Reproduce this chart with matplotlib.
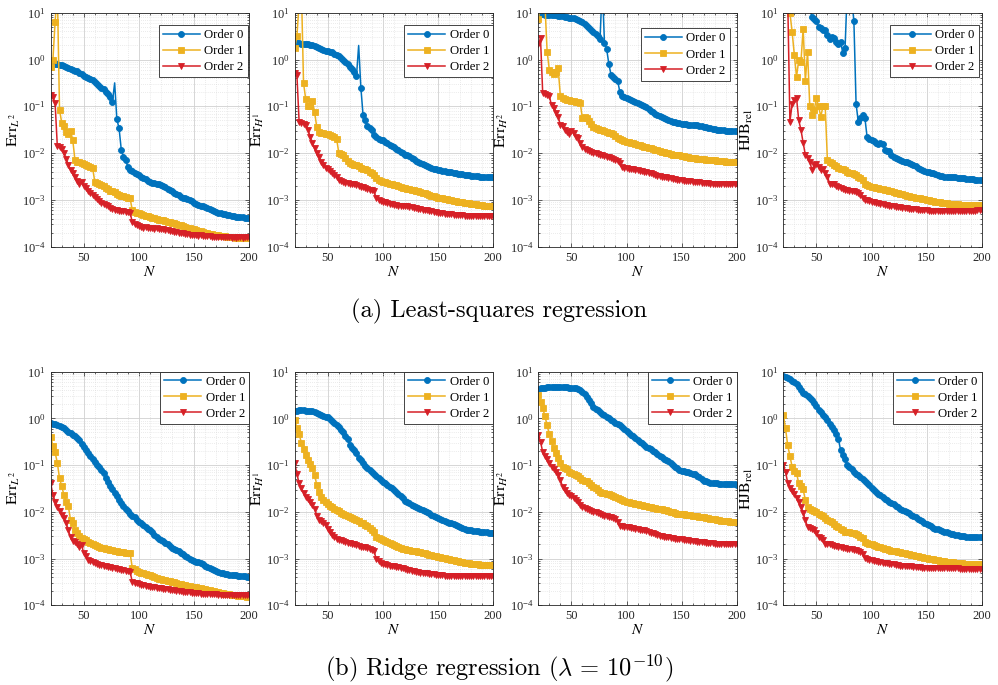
import numpy as np
import matplotlib
matplotlib.use('Agg')
import matplotlib.pyplot as plt
from matplotlib.ticker import FixedLocator, LogLocator, MultipleLocator, NullFormatter, LogFormatterSciNotation

# ---------------- data (log10 of the plotted values), N = 20, 22, ..., 200 ----------------
N = list(range(20, 201, 2))

# (a) Least-squares regression
ls_l2_o0 = [-0.05,-0.08,-0.09,-0.10,-0.11,-0.12,-0.14,-0.16,-0.18,-0.20,
            -0.22,-0.24,-0.25,-0.28,-0.32,-0.35,-0.37,-0.39,-0.42,-0.44,
            -0.48,-0.53,-0.57,-0.60,-0.64,-0.69,-0.74,-0.80,-0.90,-0.50,
            -1.28,-1.47,-1.93,-2.08,-2.15,-2.30,-2.36,-2.39,-2.42,-2.44,
            -2.47,-2.50,-2.53,-2.56,-2.59,-2.61,-2.63,-2.64,-2.66,-2.67,
            -2.68,-2.70,-2.73,-2.76,-2.79,-2.82,-2.85,-2.88,-2.90,-2.93,
            -2.95,-2.97,-2.99,-3.01,-3.03,-3.06,-3.08,-3.10,-3.12,-3.14,
            -3.16,-3.18,-3.20,-3.22,-3.24,-3.26,-3.28,-3.29,-3.30,-3.31,
            -3.32,-3.33,-3.34,-3.35,-3.36,-3.36,-3.37,-3.37,-3.38,-3.38,
            -3.38]
ls_l2_o1 = [-0.15,0.00,0.80,1.50,-1.08,-1.35,-1.42,-1.55,-1.60,-1.52,
            -1.72,-2.15,-2.18,-2.20,-2.21,-2.23,-2.25,-2.28,-2.30,-2.32,
            -2.61,-2.63,-2.65,-2.68,-2.71,-2.75,-2.77,-2.80,-2.82,-2.84,
            -2.87,-2.90,-2.91,-2.92,-2.93,-2.95,-2.97,-3.22,-3.25,-3.27,
            -3.29,-3.31,-3.32,-3.34,-3.35,-3.36,-3.38,-3.39,-3.41,-3.42,
            -3.43,-3.44,-3.46,-3.47,-3.48,-3.49,-3.50,-3.51,-3.53,-3.54,
            -3.56,-3.57,-3.59,-3.60,-3.62,-3.63,-3.64,-3.66,-3.67,-3.69,
            -3.70,-3.71,-3.72,-3.73,-3.74,-3.75,-3.76,-3.77,-3.77,-3.78,
            -3.79,-3.79,-3.80,-3.80,-3.81,-3.81,-3.81,-3.82,-3.82,-3.82,
            -3.82]
ls_l2_o2 = [-0.76,-0.80,-0.94,-1.85,-1.88,-1.92,-2.00,-2.12,-2.25,-2.36,
            -2.43,-2.52,-2.60,-2.66,-2.62,-2.70,-2.74,-2.80,-2.85,-2.90,
            -2.93,-2.98,-3.03,-3.06,-3.09,-3.11,-3.14,-3.17,-3.19,-3.21,
            -3.22,-3.23,-3.23,-3.24,-3.25,-3.26,-3.27,-3.48,-3.52,-3.54,
            -3.56,-3.57,-3.59,-3.58,-3.60,-3.61,-3.60,-3.62,-3.61,-3.62,
            -3.63,-3.63,-3.65,-3.64,-3.66,-3.66,-3.68,-3.68,-3.70,-3.70,
            -3.71,-3.72,-3.72,-3.74,-3.74,-3.75,-3.75,-3.77,-3.76,-3.77,
            -3.77,-3.78,-3.78,-3.79,-3.79,-3.79,-3.80,-3.80,-3.80,-3.80,
            -3.80,-3.80,-3.81,-3.80,-3.81,-3.80,-3.80,-3.81,-3.80,-3.80,
            -3.80]

ls_h1_o0 = [0.36,0.35,0.35,0.34,0.34,0.33,0.33,0.32,0.31,0.29,
            0.27,0.25,0.22,0.20,0.19,0.18,0.17,0.15,0.12,0.10,
            0.07,0.03,-0.01,-0.05,-0.10,-0.15,-0.20,-0.27,-0.36,0.30,
            -0.60,-1.19,-1.30,-1.42,-1.46,-1.50,-1.61,-1.66,-1.69,-1.71,
            -1.73,-1.76,-1.79,-1.82,-1.85,-1.88,-1.91,-1.94,-1.97,-2.00,
            -2.03,-2.05,-2.07,-2.10,-2.13,-2.16,-2.19,-2.21,-2.23,-2.25,
            -2.27,-2.29,-2.31,-2.33,-2.34,-2.36,-2.37,-2.38,-2.39,-2.40,
            -2.40,-2.41,-2.42,-2.43,-2.44,-2.44,-2.45,-2.46,-2.47,-2.47,
            -2.48,-2.48,-2.49,-2.49,-2.50,-2.50,-2.51,-2.51,-2.51,-2.52,
            -2.52]
ls_h1_o1 = [0.25,0.50,1.20,1.60,-0.50,-0.85,-1.00,-1.00,-0.88,-1.12,
            -1.44,-1.54,-1.56,-1.58,-1.59,-1.60,-1.61,-1.63,-1.65,-1.69,
            -2.00,-2.02,-2.04,-2.10,-2.16,-2.22,-2.23,-2.25,-2.26,-2.28,
            -2.31,-2.33,-2.35,-2.37,-2.40,-2.43,-2.47,-2.54,-2.57,-2.59,
            -2.61,-2.62,-2.64,-2.65,-2.66,-2.68,-2.69,-2.71,-2.72,-2.74,
            -2.75,-2.76,-2.77,-2.78,-2.79,-2.80,-2.82,-2.83,-2.85,-2.86,
            -2.88,-2.89,-2.91,-2.92,-2.93,-2.95,-2.96,-2.97,-2.98,-2.99,
            -3.00,-3.01,-3.02,-3.03,-3.04,-3.05,-3.05,-3.06,-3.07,-3.07,
            -3.08,-3.09,-3.09,-3.10,-3.11,-3.11,-3.12,-3.12,-3.13,-3.13,
            -3.13]
ls_h1_o2 = [-0.28,-0.33,-1.33,-1.35,-1.37,-1.40,-1.50,-1.65,-1.79,-1.90,
            -2.00,-2.08,-2.18,-2.25,-2.32,-2.34,-2.38,-2.42,-2.47,-2.52,
            -2.57,-2.59,-2.61,-2.63,-2.64,-2.65,-2.66,-2.67,-2.69,-2.71,
            -2.72,-2.73,-2.75,-2.76,-2.78,-2.79,-2.82,-2.97,-3.00,-3.02,
            -3.04,-3.05,-3.07,-3.08,-3.09,-3.10,-3.11,-3.12,-3.12,-3.13,
            -3.13,-3.14,-3.15,-3.16,-3.17,-3.18,-3.19,-3.20,-3.21,-3.22,
            -3.22,-3.23,-3.24,-3.25,-3.26,-3.27,-3.28,-3.29,-3.30,-3.30,
            -3.31,-3.31,-3.32,-3.32,-3.32,-3.33,-3.33,-3.34,-3.34,-3.34,
            -3.35,-3.35,-3.35,-3.35,-3.35,-3.35,-3.35,-3.35,-3.35,-3.35,
            -3.35]

ls_h2_o0 = [0.97,0.97,0.97,0.96,0.96,0.96,0.96,0.96,0.95,0.94,
            0.93,0.92,0.91,0.90,0.89,0.88,0.88,0.87,0.85,0.83,
            0.80,0.76,0.72,0.67,0.63,0.59,0.55,0.51,0.44,1.60,
            0.36,0.22,-0.10,-0.33,-0.38,-0.42,-0.46,-0.70,-0.77,-0.80,
            -0.83,-0.85,-0.87,-0.89,-0.91,-0.93,-0.95,-0.97,-0.99,-1.01,
            -1.05,-1.09,-1.13,-1.16,-1.19,-1.21,-1.23,-1.25,-1.27,-1.29,
            -1.31,-1.33,-1.34,-1.35,-1.36,-1.37,-1.38,-1.38,-1.39,-1.39,
            -1.40,-1.40,-1.41,-1.42,-1.43,-1.44,-1.45,-1.46,-1.47,-1.48,
            -1.49,-1.50,-1.50,-1.51,-1.51,-1.52,-1.52,-1.52,-1.53,-1.53,
            -1.53]
ls_h2_o1 = [0.86,1.20,1.30,1.20,0.17,-0.22,-0.27,-0.30,-0.26,-0.18,
            -0.78,-0.82,-0.84,-0.86,-0.87,-0.88,-0.89,-0.90,-0.91,-0.92,
            -1.26,-1.22,-1.26,-1.31,-1.38,-1.44,-1.46,-1.48,-1.50,-1.51,
            -1.52,-1.54,-1.56,-1.58,-1.60,-1.63,-1.67,-1.70,-1.72,-1.74,
            -1.76,-1.77,-1.78,-1.79,-1.80,-1.82,-1.83,-1.85,-1.86,-1.88,
            -1.89,-1.90,-1.92,-1.93,-1.94,-1.96,-1.97,-1.98,-1.99,-2.00,
            -2.02,-2.03,-2.04,-2.05,-2.05,-2.06,-2.07,-2.08,-2.09,-2.10,
            -2.11,-2.11,-2.12,-2.12,-2.13,-2.13,-2.14,-2.14,-2.15,-2.15,
            -2.15,-2.16,-2.16,-2.17,-2.17,-2.18,-2.18,-2.19,-2.19,-2.20,
            -2.20]
ls_h2_o2 = [0.34,0.45,-0.72,-0.74,-0.76,-0.78,-0.98,-1.04,-1.14,-1.22,
            -1.40,-1.43,-1.50,-1.55,-1.60,-1.52,-1.58,-1.65,-1.68,-1.78,
            -1.88,-1.91,-1.93,-1.95,-1.97,-1.99,-2.00,-2.02,-2.04,-2.05,
            -2.06,-2.08,-2.09,-2.11,-2.12,-2.14,-2.17,-2.22,-2.29,-2.31,
            -2.32,-2.33,-2.34,-2.35,-2.36,-2.37,-2.38,-2.39,-2.40,-2.41,
            -2.42,-2.43,-2.44,-2.46,-2.48,-2.49,-2.50,-2.51,-2.52,-2.53,
            -2.54,-2.55,-2.56,-2.57,-2.58,-2.58,-2.59,-2.59,-2.60,-2.60,
            -2.61,-2.61,-2.62,-2.62,-2.63,-2.63,-2.64,-2.64,-2.65,-2.65,
            -2.65,-2.65,-2.66,-2.66,-2.66,-2.66,-2.66,-2.66,-2.66,-2.66,
            -2.66]

ls_hjb_o0 = [1.90,1.85,1.80,1.75,1.70,1.60,1.55,1.50,1.40,1.35,
             1.30,1.20,1.10,0.90,0.86,0.83,0.70,0.67,0.64,0.63,
             0.52,0.43,0.49,0.47,0.38,0.34,0.38,0.13,0.24,1.50,
             1.60,1.30,0.83,-0.95,-1.33,-1.24,-1.19,-1.25,-1.66,-1.69,
             -1.71,-1.74,-1.78,-1.81,-1.79,-1.80,-1.93,-1.96,-1.95,-2.05,
             -2.08,-2.10,-2.12,-2.14,-2.16,-2.18,-2.20,-2.21,-2.23,-2.25,
             -2.28,-2.31,-2.35,-2.37,-2.39,-2.40,-2.41,-2.42,-2.43,-2.44,
             -2.46,-2.48,-2.49,-2.50,-2.50,-2.51,-2.51,-2.52,-2.52,-2.53,
             -2.53,-2.54,-2.54,-2.55,-2.55,-2.56,-2.56,-2.57,-2.57,-2.58,
             -2.58]
ls_hjb_o1 = [1.50,1.40,1.20,1.00,0.59,0.10,-0.37,-0.01,-0.05,0.66,
             -0.46,0.17,-1.00,-1.19,-1.08,-0.83,-1.00,-1.22,-1.00,-1.00,
             -2.15,-2.18,-2.22,-2.25,-2.28,-2.31,-2.33,-2.35,-2.37,-2.40,
             -2.42,-2.43,-2.45,-2.47,-2.50,-2.53,-2.57,-2.67,-2.69,-2.71,
             -2.72,-2.73,-2.74,-2.75,-2.76,-2.77,-2.78,-2.79,-2.80,-2.81,
             -2.84,-2.85,-2.86,-2.87,-2.88,-2.89,-2.91,-2.92,-2.93,-2.94,
             -2.95,-2.96,-2.97,-2.98,-2.99,-3.00,-3.01,-3.02,-3.03,-3.04,
             -3.05,-3.05,-3.06,-3.07,-3.07,-3.08,-3.08,-3.09,-3.09,-3.09,
             -3.10,-3.10,-3.10,-3.10,-3.10,-3.10,-3.10,-3.10,-3.10,-3.10,
             -3.10]
ls_hjb_o2 = [1.60,1.50,1.30,-1.33,-0.95,-0.87,-0.82,-1.30,-1.50,-1.78,
             -2.04,-2.10,-2.18,-2.36,-2.26,-2.24,-2.29,-2.36,-2.34,-2.42,
             -2.50,-2.65,-2.65,-2.66,-2.70,-2.72,-2.74,-2.76,-2.78,-2.79,
             -2.81,-2.82,-2.82,-2.83,-2.86,-2.90,-2.95,-3.00,-3.01,-3.03,
             -3.04,-3.05,-3.06,-3.07,-3.08,-3.09,-3.10,-3.11,-3.12,-3.13,
             -3.14,-3.15,-3.15,-3.16,-3.17,-3.18,-3.18,-3.19,-3.19,-3.20,
             -3.20,-3.21,-3.21,-3.22,-3.22,-3.22,-3.23,-3.23,-3.23,-3.23,
             -3.23,-3.23,-3.24,-3.24,-3.24,-3.24,-3.24,-3.24,-3.24,-3.24,
             -3.24,-3.24,-3.24,-3.24,-3.23,-3.23,-3.23,-3.23,-3.22,-3.22,
             -3.22]

# (b) Ridge regression
rr_l2_o0 = [-0.09,-0.11,-0.13,-0.15,-0.17,-0.19,-0.21,-0.25,-0.29,-0.32,
            -0.35,-0.38,-0.42,-0.47,-0.54,-0.61,-0.67,-0.74,-0.80,-0.86,
            -0.93,-0.99,-1.05,-1.10,-1.16,-1.27,-1.37,-1.45,-1.52,-1.60,
            -1.67,-1.74,-1.81,-1.87,-1.93,-1.99,-2.04,-2.08,-2.12,-2.17,
            -2.21,-2.25,-2.29,-2.32,-2.36,-2.40,-2.44,-2.49,-2.54,-2.58,
            -2.61,-2.63,-2.66,-2.69,-2.73,-2.77,-2.80,-2.82,-2.85,-2.88,
            -2.91,-2.94,-2.97,-3.00,-3.03,-3.05,-3.07,-3.08,-3.09,-3.12,
            -3.15,-3.18,-3.21,-3.23,-3.25,-3.27,-3.29,-3.31,-3.32,-3.33,
            -3.34,-3.35,-3.35,-3.36,-3.36,-3.37,-3.37,-3.38,-3.38,-3.39,
            -3.39]
rr_l2_o1 = [-0.39,-0.59,-0.73,-0.95,-1.28,-1.45,-1.64,-1.78,-1.88,-2.18,
            -2.25,-2.40,-2.46,-2.52,-2.56,-2.59,-2.61,-2.64,-2.67,-2.70,
            -2.72,-2.74,-2.75,-2.77,-2.78,-2.79,-2.80,-2.81,-2.82,-2.83,
            -2.85,-2.86,-2.87,-2.87,-2.88,-2.88,-2.89,-3.20,-3.23,-3.26,
            -3.29,-3.30,-3.32,-3.33,-3.35,-3.36,-3.38,-3.40,-3.42,-3.43,
            -3.44,-3.45,-3.47,-3.48,-3.49,-3.50,-3.51,-3.53,-3.54,-3.55,
            -3.56,-3.57,-3.58,-3.59,-3.60,-3.61,-3.62,-3.63,-3.64,-3.65,
            -3.66,-3.67,-3.68,-3.69,-3.70,-3.71,-3.72,-3.73,-3.74,-3.75,
            -3.76,-3.77,-3.78,-3.79,-3.79,-3.80,-3.80,-3.81,-3.81,-3.82,
            -3.82]
rr_l2_o2 = [-1.39,-1.64,-1.78,-1.90,-1.98,-2.07,-2.14,-2.24,-2.40,-2.54,
            -2.62,-2.64,-2.68,-2.76,-2.72,-2.88,-2.95,-3.03,-3.06,-3.08,
            -3.10,-3.12,-3.13,-3.14,-3.16,-3.17,-3.18,-3.19,-3.20,-3.21,
            -3.22,-3.23,-3.24,-3.25,-3.26,-3.27,-3.29,-3.50,-3.52,-3.53,
            -3.54,-3.56,-3.57,-3.58,-3.59,-3.60,-3.61,-3.62,-3.63,-3.63,
            -3.64,-3.65,-3.66,-3.66,-3.67,-3.68,-3.68,-3.69,-3.70,-3.70,
            -3.71,-3.71,-3.72,-3.72,-3.73,-3.73,-3.74,-3.74,-3.75,-3.75,
            -3.75,-3.76,-3.76,-3.77,-3.77,-3.77,-3.78,-3.78,-3.78,-3.78,
            -3.79,-3.79,-3.79,-3.79,-3.79,-3.79,-3.79,-3.79,-3.79,-3.79,
            -3.79]

rr_h1_o0 = [0.16,0.16,0.17,0.17,0.17,0.16,0.16,0.15,0.15,0.14,
            0.12,0.10,0.08,0.06,0.04,0.02,-0.02,-0.06,-0.10,-0.14,
            -0.19,-0.24,-0.30,-0.37,-0.44,-0.58,-0.63,-0.68,-0.75,-0.84,
            -0.90,-0.96,-1.02,-1.07,-1.11,-1.15,-1.18,-1.23,-1.27,-1.32,
            -1.36,-1.39,-1.43,-1.46,-1.50,-1.54,-1.57,-1.62,-1.66,-1.71,
            -1.77,-1.80,-1.82,-1.85,-1.88,-1.90,-1.92,-1.95,-1.97,-1.99,
            -2.01,-2.03,-2.06,-2.09,-2.11,-2.14,-2.16,-2.17,-2.19,-2.21,
            -2.23,-2.25,-2.27,-2.29,-2.31,-2.33,-2.35,-2.37,-2.38,-2.39,
            -2.40,-2.41,-2.42,-2.42,-2.43,-2.43,-2.44,-2.44,-2.45,-2.45,
            -2.45]
rr_h1_o1 = [-0.04,-0.20,-0.33,-0.52,-0.66,-0.79,-0.89,-0.97,-1.07,-1.21,
            -1.42,-1.57,-1.68,-1.75,-1.80,-1.84,-1.87,-1.90,-1.94,-1.97,
            -1.99,-2.02,-2.04,-2.07,-2.10,-2.12,-2.14,-2.16,-2.18,-2.20,
            -2.23,-2.25,-2.28,-2.31,-2.34,-2.38,-2.43,-2.54,-2.57,-2.59,
            -2.61,-2.63,-2.65,-2.67,-2.69,-2.71,-2.73,-2.75,-2.77,-2.79,
            -2.80,-2.81,-2.82,-2.83,-2.84,-2.85,-2.86,-2.87,-2.88,-2.89,
            -2.91,-2.92,-2.93,-2.94,-2.95,-2.96,-2.97,-2.98,-2.99,-3.00,
            -3.02,-3.03,-3.04,-3.05,-3.06,-3.07,-3.08,-3.09,-3.10,-3.10,
            -3.11,-3.11,-3.12,-3.12,-3.13,-3.13,-3.13,-3.14,-3.14,-3.14,
            -3.14]
rr_h1_o2 = [-0.95,-1.20,-1.38,-1.50,-1.59,-1.68,-1.73,-1.79,-1.86,-1.93,
            -2.08,-2.17,-2.20,-2.23,-2.29,-2.37,-2.44,-2.49,-2.55,-2.58,
            -2.60,-2.61,-2.62,-2.64,-2.66,-2.67,-2.69,-2.70,-2.72,-2.74,
            -2.75,-2.75,-2.76,-2.78,-2.79,-2.82,-2.84,-3.02,-3.06,-3.09,
            -3.11,-3.12,-3.14,-3.15,-3.16,-3.17,-3.18,-3.19,-3.20,-3.21,
            -3.23,-3.24,-3.25,-3.26,-3.27,-3.28,-3.29,-3.30,-3.31,-3.32,
            -3.32,-3.33,-3.34,-3.34,-3.35,-3.35,-3.36,-3.36,-3.37,-3.37,
            -3.37,-3.37,-3.37,-3.38,-3.38,-3.38,-3.38,-3.38,-3.38,-3.38,
            -3.37,-3.37,-3.37,-3.37,-3.37,-3.37,-3.37,-3.37,-3.37,-3.37,
            -3.37]

rr_h2_o0 = [0.64,0.65,0.66,0.66,0.67,0.67,0.67,0.67,0.67,0.67,
            0.67,0.67,0.67,0.67,0.66,0.66,0.66,0.65,0.64,0.61,
            0.57,0.52,0.46,0.39,0.33,0.25,0.20,0.17,0.13,0.10,
            0.07,0.03,0.00,-0.03,-0.06,-0.09,-0.12,-0.15,-0.19,-0.23,
            -0.28,-0.31,-0.35,-0.38,-0.42,-0.46,-0.50,-0.53,-0.57,-0.61,
            -0.63,-0.66,-0.69,-0.73,-0.76,-0.80,-0.83,-0.86,-0.89,-0.92,
            -0.96,-0.99,-1.03,-1.07,-1.10,-1.12,-1.13,-1.14,-1.15,-1.16,
            -1.18,-1.20,-1.23,-1.26,-1.30,-1.33,-1.35,-1.37,-1.38,-1.38,
            -1.39,-1.39,-1.40,-1.40,-1.40,-1.41,-1.41,-1.41,-1.41,-1.41,
            -1.42]
rr_h2_o1 = [0.50,0.36,0.22,0.05,-0.15,-0.34,-0.49,-0.63,-0.75,-0.85,
            -0.95,-1.04,-1.06,-1.09,-1.14,-1.17,-1.19,-1.21,-1.23,-1.27,
            -1.32,-1.33,-1.35,-1.39,-1.43,-1.47,-1.50,-1.53,-1.57,-1.59,
            -1.60,-1.61,-1.62,-1.63,-1.66,-1.69,-1.71,-1.73,-1.75,-1.77,
            -1.79,-1.80,-1.81,-1.82,-1.83,-1.84,-1.85,-1.86,-1.87,-1.88,
            -1.89,-1.90,-1.91,-1.92,-1.93,-1.94,-1.95,-1.96,-1.97,-1.99,
            -2.00,-2.01,-2.03,-2.04,-2.04,-2.05,-2.05,-2.06,-2.07,-2.07,
            -2.08,-2.09,-2.10,-2.11,-2.12,-2.12,-2.13,-2.14,-2.15,-2.15,
            -2.16,-2.17,-2.18,-2.19,-2.19,-2.20,-2.20,-2.21,-2.21,-2.22,
            -2.22]
rr_h2_o2 = [-0.36,-0.50,-0.72,-0.80,-0.88,-0.96,-1.03,-1.08,-1.14,-1.21,
            -1.32,-1.46,-1.54,-1.60,-1.64,-1.67,-1.70,-1.75,-1.80,-1.85,
            -1.89,-1.92,-1.94,-1.96,-1.98,-2.00,-2.01,-2.03,-2.05,-2.06,
            -2.08,-2.09,-2.11,-2.12,-2.14,-2.16,-2.21,-2.30,-2.31,-2.32,
            -2.32,-2.33,-2.34,-2.35,-2.36,-2.37,-2.38,-2.39,-2.40,-2.42,
            -2.43,-2.45,-2.46,-2.48,-2.49,-2.51,-2.52,-2.53,-2.54,-2.55,
            -2.56,-2.57,-2.58,-2.58,-2.59,-2.59,-2.60,-2.61,-2.61,-2.62,
            -2.63,-2.63,-2.64,-2.64,-2.65,-2.65,-2.66,-2.66,-2.67,-2.67,
            -2.68,-2.68,-2.68,-2.68,-2.68,-2.68,-2.68,-2.68,-2.68,-2.68,
            -2.68]

rr_hjb_o0 = [0.91,0.89,0.87,0.85,0.81,0.77,0.73,0.68,0.61,0.55,
             0.52,0.47,0.43,0.39,0.32,0.26,0.19,0.13,0.08,0.02,
             -0.04,-0.11,-0.18,-0.25,-0.33,-0.45,-0.68,-0.78,-0.88,-1.00,
             -1.05,-1.09,-1.14,-1.18,-1.21,-1.25,-1.30,-1.34,-1.38,-1.43,
             -1.49,-1.53,-1.57,-1.61,-1.65,-1.69,-1.72,-1.75,-1.78,-1.81,
             -1.84,-1.87,-1.90,-1.93,-1.96,-1.98,-2.00,-2.03,-2.06,-2.09,
             -2.12,-2.15,-2.18,-2.20,-2.23,-2.26,-2.29,-2.31,-2.34,-2.36,
             -2.37,-2.39,-2.41,-2.43,-2.44,-2.46,-2.47,-2.48,-2.50,-2.50,
             -2.51,-2.52,-2.52,-2.53,-2.53,-2.54,-2.54,-2.54,-2.55,-2.55,
             -2.55]
rr_hjb_o1 = [0.07,-0.21,-0.58,-0.80,-1.04,-1.12,-1.17,-1.39,-1.44,-1.52,
             -1.75,-1.90,-1.94,-1.96,-1.98,-2.01,-2.04,-2.07,-2.10,-2.14,
             -2.17,-2.19,-2.21,-2.26,-2.30,-2.32,-2.36,-2.39,-2.43,-2.44,
             -2.44,-2.45,-2.46,-2.47,-2.50,-2.54,-2.56,-2.64,-2.66,-2.68,
             -2.69,-2.71,-2.73,-2.75,-2.76,-2.78,-2.79,-2.80,-2.81,-2.83,
             -2.84,-2.85,-2.86,-2.87,-2.88,-2.89,-2.90,-2.91,-2.92,-2.93,
             -2.94,-2.95,-2.96,-2.97,-2.98,-2.99,-3.00,-3.01,-3.02,-3.03,
             -3.04,-3.05,-3.05,-3.06,-3.07,-3.07,-3.08,-3.08,-3.09,-3.09,
             -3.10,-3.10,-3.11,-3.11,-3.11,-3.12,-3.12,-3.12,-3.12,-3.12,
             -3.12]
rr_hjb_o2 = [-1.00,-1.14,-1.38,-1.48,-1.55,-1.61,-1.70,-1.80,-1.89,-2.02,
             -2.18,-2.32,-2.35,-2.37,-2.40,-2.46,-2.54,-2.56,-2.60,-2.68,
             -2.69,-2.70,-2.71,-2.73,-2.74,-2.75,-2.76,-2.77,-2.78,-2.79,
             -2.80,-2.80,-2.81,-2.82,-2.84,-2.86,-2.90,-2.99,-3.01,-3.03,
             -3.04,-3.05,-3.06,-3.07,-3.08,-3.09,-3.10,-3.10,-3.11,-3.12,
             -3.12,-3.13,-3.14,-3.15,-3.15,-3.16,-3.16,-3.17,-3.17,-3.18,
             -3.18,-3.19,-3.19,-3.20,-3.20,-3.20,-3.21,-3.21,-3.21,-3.21,
             -3.21,-3.21,-3.21,-3.21,-3.21,-3.21,-3.21,-3.21,-3.21,-3.21,
             -3.22,-3.22,-3.22,-3.22,-3.22,-3.22,-3.22,-3.22,-3.22,-3.22,
             -3.22]

series_labels = ['Order 0', 'Order 1', 'Order 2']
ylabels = [r'$\mathrm{Err}_{L^2}$', r'$\mathrm{Err}_{H^1}$', r'$\mathrm{Err}_{H^2}$',
           r'$\mathrm{HJB}_{\mathrm{rel}}$']
captions = ['(a) Least-squares regression', r'(b) Ridge regression ($\lambda\,=\,10^{-10}$)']
x_ticks = [50, 100, 150, 200]
y_ticks = [1e-4, 1e-3, 1e-2, 1e-1, 1e0, 1e1]
unmarked_N = [78]   # thin spike points drawn without a marker (least-squares, order 0)

rows = [
    [(ls_l2_o0, ls_l2_o1, ls_l2_o2), (ls_h1_o0, ls_h1_o1, ls_h1_o2),
     (ls_h2_o0, ls_h2_o1, ls_h2_o2), (ls_hjb_o0, ls_hjb_o1, ls_hjb_o2)],
    [(rr_l2_o0, rr_l2_o1, rr_l2_o2), (rr_h1_o0, rr_h1_o1, rr_h1_o2),
     (rr_h2_o0, rr_h2_o1, rr_h2_o2), (rr_hjb_o0, rr_hjb_o1, rr_hjb_o2)],
]

# ---------------- style ----------------
plt.rcParams['font.family'] = ['Liberation Serif', 'DejaVu Serif']
plt.rcParams['mathtext.fontset'] = 'stix'

colors = ['#0072BD', '#EDB120', '#D62027']
markers = ['o', 's', 'v']
msizes = [4.3, 3.7, 4.6]

W, H = 998, 685
fig = plt.figure(figsize=(W / 100, H / 100), dpi=100)

lefts_px = [50.7, 294.7, 538.3, 783.3]
width_px = 198.5
tops_px = [12.7, 371.7]
heights_px = [234.0, 233.5]
legend_anchor = [[(0.994, 0.947), (1.0, 0.947), (0.966, 0.933), (0.986, 0.947)],
                 [(1.0, 1.0), (1.0, 1.0), (1.0, 1.0), (1.0, 1.0)]]
caption_y_px = [311.7, 668.3]

x = np.array(N)
for r, row in enumerate(rows):
    for c, trio in enumerate(row):
        ax = fig.add_axes([lefts_px[c] / W, 1 - (tops_px[r] + heights_px[r]) / H,
                           width_px / W, heights_px[r] / H])
        ax.set_axisbelow(True)
        for k, logvals in enumerate(trio):
            y = 10.0 ** np.array(logvals)
            if r == 0 and k == 0:
                me = [i for i, n in enumerate(N) if n not in unmarked_N]
            else:
                me = None
            ax.plot(x, y, color=colors[k], marker=markers[k], markersize=msizes[k],
                    markeredgewidth=0.6, markeredgecolor=colors[k], lw=1.1,
                    label=series_labels[k], markevery=me)
        ax.set_yscale('log')
        ax.set_xlim(20, 200)
        ax.set_ylim(1e-4, 1e1)
        ax.xaxis.set_major_locator(FixedLocator(x_ticks))
        ax.xaxis.set_minor_locator(MultipleLocator(10))
        ax.yaxis.set_major_locator(FixedLocator(y_ticks))
        ax.yaxis.set_major_formatter(LogFormatterSciNotation())
        ax.yaxis.set_minor_locator(LogLocator(base=10, subs=np.arange(2, 10)))
        ax.yaxis.set_minor_formatter(NullFormatter())
        ax.grid(True, which='major', color='#d0d0d0', lw=0.6, ls='-')
        ax.grid(True, which='minor', color='#d8d8d8', lw=0.5, ls=(0, (1, 2)))
        ax.tick_params(which='both', direction='in', top=True, right=True,
                       colors='#262626', labelcolor='#262626', labelsize=9, width=0.5)
        ax.tick_params(which='major', length=3)
        ax.tick_params(which='minor', length=1.5)
        for sp in ax.spines.values():
            sp.set_linewidth(0.6)
            sp.set_color('#262626')
        ax.set_xlabel(r'$N$', fontsize=11, labelpad=1)
        ax.set_ylabel(ylabels[c], fontsize=11.5, labelpad=0)
        leg = ax.legend(loc='upper right', bbox_to_anchor=legend_anchor[r][c],
                        borderaxespad=0, fontsize=9.2, frameon=True, fancybox=False,
                        framealpha=1, edgecolor='#262626', labelspacing=0.32,
                        borderpad=0.32, handlelength=2.9, handletextpad=0.35)
        leg.get_frame().set_linewidth(0.6)

    fig.text(0.5, 1 - caption_y_px[r] / H, captions[r], ha='center', va='center',
             fontsize=17.6, family='cmr10', math_fontfamily='cm')

fig.savefig('out.png', dpi=100)
